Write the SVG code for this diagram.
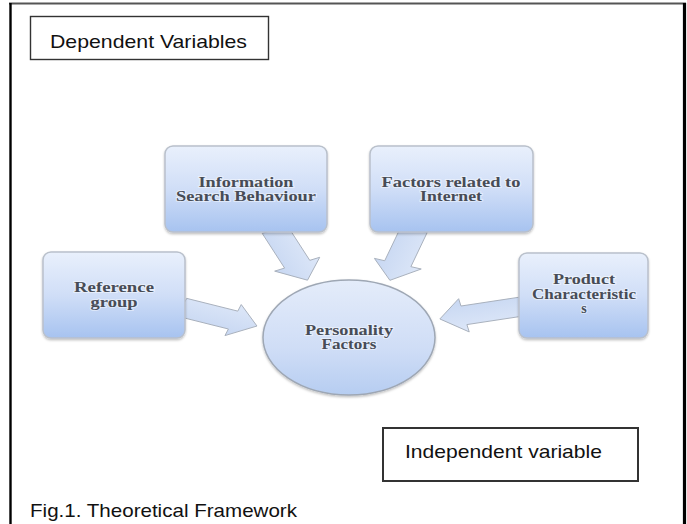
<svg xmlns="http://www.w3.org/2000/svg" width="687" height="524" viewBox="0 0 687 524">
<style>
.lbl{font-family:"Liberation Sans",Arial,sans-serif;font-size:19px;fill:#111}
.frame{fill:none;stroke:#333}
.box{stroke:#b9c0cb;stroke-width:1.5;fill:url(#boxg);filter:url(#sh)}
.nt{font-family:"Liberation Serif","Times New Roman",serif;font-weight:bold;font-size:14px;fill:#474c56;text-anchor:middle;stroke:#ffffff;stroke-opacity:0.45;stroke-width:2;paint-order:stroke}
.arr{fill:url(#arrg);stroke:#a9b1bd;stroke-width:1;vector-effect:non-scaling-stroke;stroke-linejoin:round}
</style>
<defs>
<linearGradient id="boxg" x1="0" y1="0" x2="0" y2="1">
<stop offset="0" stop-color="#e9f0fc"/>
<stop offset="0.5" stop-color="#d0def7"/>
<stop offset="1" stop-color="#a7c3f0"/>
</linearGradient>
<linearGradient id="ellg" x1="0" y1="0" x2="0" y2="1">
<stop offset="0" stop-color="#e4ecfa"/>
<stop offset="0.6" stop-color="#cfddf6"/>
<stop offset="1" stop-color="#b6cdf1"/>
</linearGradient>
<linearGradient id="arrg" x1="0" y1="0" x2="0" y2="1">
<stop offset="0" stop-color="#dde7f8"/>
<stop offset="1" stop-color="#c7d7f2"/>
</linearGradient>
<filter id="sh" x="-10%" y="-10%" width="120%" height="130%">
<feDropShadow dx="0" dy="1.5" stdDeviation="1.2" flood-color="#000" flood-opacity="0.25"/>
</filter>
</defs>
<rect width="687" height="524" fill="#ffffff"/>
<g id="frame">
<line x1="9" y1="3.5" x2="686" y2="3.5" stroke="#555" stroke-width="2"/>
<line x1="10.5" y1="3" x2="10.5" y2="524" stroke="#000" stroke-width="2.4"/>
<line x1="684.5" y1="3" x2="684.5" y2="524" stroke="#000" stroke-width="3.2"/>
</g>
<g id="connectors">
<g transform="scale(1.45,1)">
<polygon class="arr" transform="translate(125.5,307.3) rotate(19.9)" points="0,-9.5 37.5,-9.5 37.5,-16.5 55,0 37.5,16.5 37.5,9.5 0,9.5"/>
<polygon class="arr" transform="translate(189.5,229.5) rotate(66)" points="0,-9.5 38,-9.5 38,-17 55.5,0 38,17 38,9.5 0,9.5"/>
<polygon class="arr" transform="translate(285.6,229.5) rotate(108.2)" points="0,-9.5 36,-9.5 36,-17 53.5,0 36,17 36,9.5 0,9.5"/>
<polygon class="arr" transform="translate(360,306.5) rotate(167.6)" points="0,-9.5 41,-9.5 41,-17 58,0 41,17 41,9.5 0,9.5"/>
</g>
</g>
<g id="dependent-label">
<rect x="30.5" y="16.5" width="238" height="43" class="frame" stroke-width="1.4"/>
<text class="lbl" x="50" y="48" textLength="197" lengthAdjust="spacingAndGlyphs">Dependent Variables</text>
</g>
<g id="info-search">
<rect class="box" x="165" y="146" width="162" height="86" rx="8"/>
<text class="nt" x="246" y="187" textLength="95" lengthAdjust="spacingAndGlyphs">Information</text>
<text class="nt" x="246" y="201" textLength="140" lengthAdjust="spacingAndGlyphs">Search Behaviour</text>
</g>
<g id="internet-factors">
<rect class="box" x="370" y="146" width="163" height="86" rx="8"/>
<text class="nt" x="451" y="187" textLength="139" lengthAdjust="spacingAndGlyphs">Factors related to</text>
<text class="nt" x="451" y="201" textLength="62" lengthAdjust="spacingAndGlyphs">Internet</text>
</g>
<g id="reference-group">
<rect class="box" x="43" y="252" width="142" height="86" rx="8"/>
<text class="nt" x="114" y="292" textLength="80" lengthAdjust="spacingAndGlyphs">Reference</text>
<text class="nt" x="114" y="307" textLength="47" lengthAdjust="spacingAndGlyphs">group</text>
</g>
<g id="product-characteristics">
<rect class="box" x="519" y="253" width="129" height="85" rx="8"/>
<text class="nt" x="584" y="284" textLength="62" lengthAdjust="spacingAndGlyphs">Product</text>
<text class="nt" x="584" y="299" textLength="104" lengthAdjust="spacingAndGlyphs">Characteristic</text>
<text class="nt" x="584" y="313">s</text>
</g>
<g id="personality-factors">
<ellipse cx="349" cy="337.5" rx="86" ry="57.5" fill="url(#ellg)" stroke="#9ea7b4" stroke-width="1.5" filter="url(#sh)"/>
<text class="nt" x="349" y="335" textLength="88" lengthAdjust="spacingAndGlyphs">Personality</text>
<text class="nt" x="349" y="349" textLength="55" lengthAdjust="spacingAndGlyphs">Factors</text>
</g>
<g id="independent-label">
<rect x="383" y="428" width="255" height="53" class="frame" stroke-width="2" stroke="#444"/>
<text class="lbl" x="405" y="458" textLength="197" lengthAdjust="spacingAndGlyphs">Independent variable</text>
</g>
<g id="caption">
<text class="lbl" x="30" y="517" textLength="267" lengthAdjust="spacingAndGlyphs">Fig.1. Theoretical Framework</text>
</g>
</svg>
